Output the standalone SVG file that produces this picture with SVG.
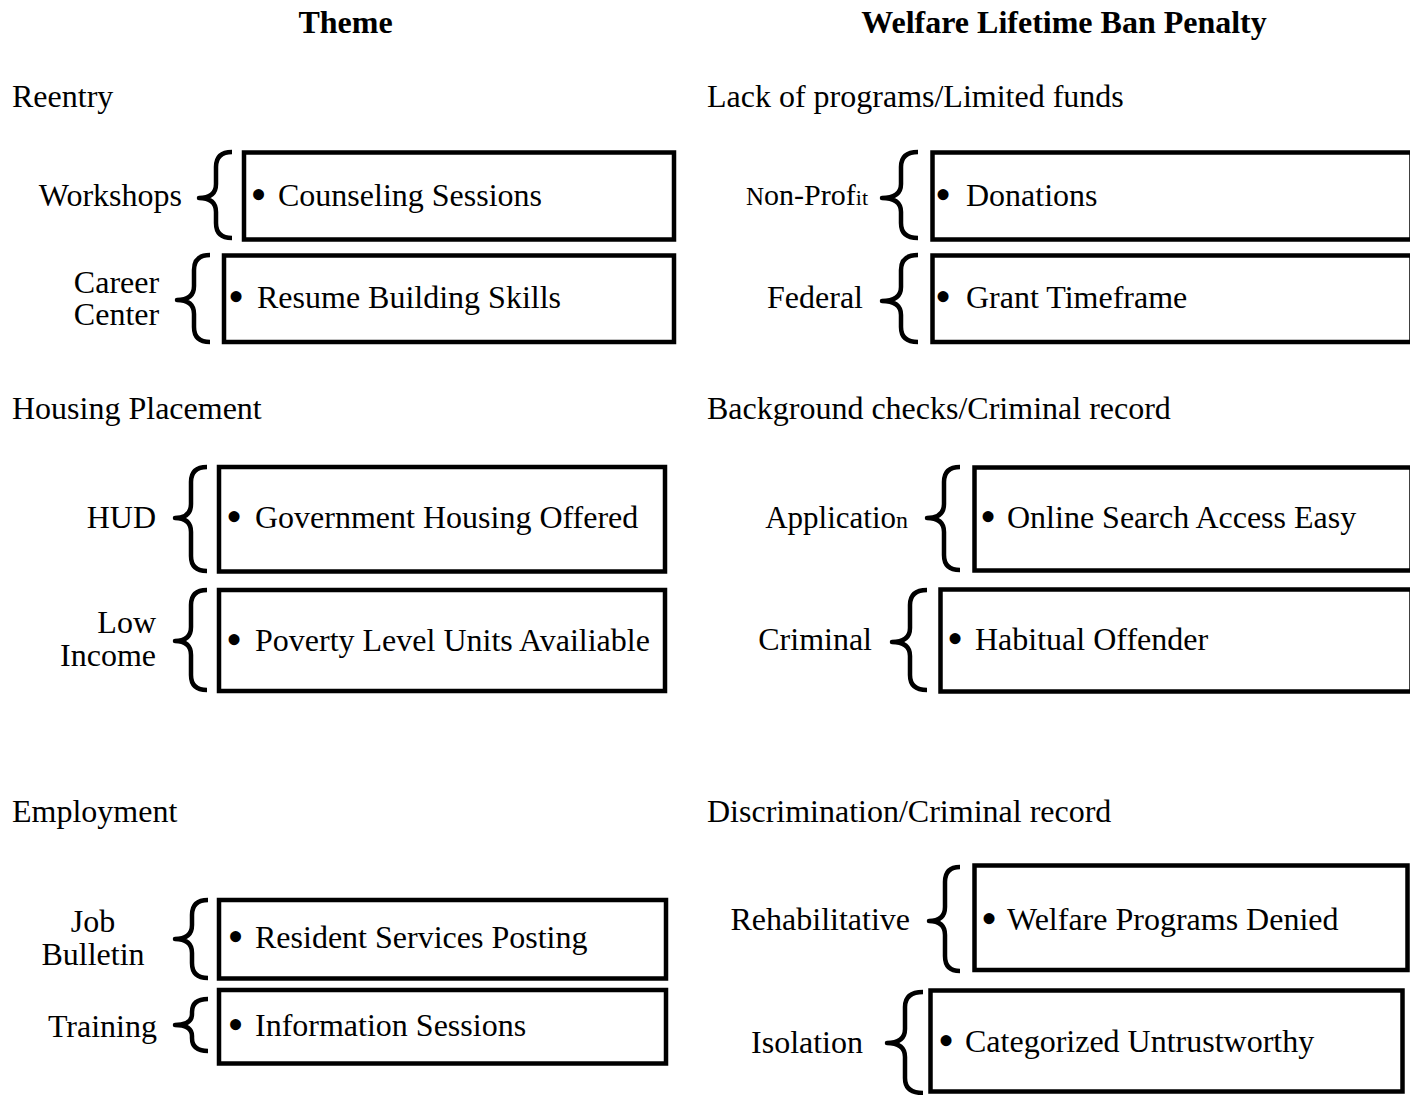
<svg xmlns="http://www.w3.org/2000/svg" width="1410" height="1095" viewBox="0 0 1410 1095">
<style>
text{font-family:"Liberation Serif","Times New Roman",serif;font-size:32px;fill:#000}
.title{font-weight:bold;text-anchor:middle}
.end{text-anchor:end}
.mid{text-anchor:middle}
.bul{font-size:46px}
.box{fill:#fff;stroke:#000;stroke-width:4.5}
.brace{fill:none;stroke:#000;stroke-width:4.5;stroke-linejoin:round}
</style>
<rect width="1410" height="1095" fill="#fff"/>
<text class="title" x="345.5" y="33">Theme</text>
<text class="title" x="1064" y="33">Welfare Lifetime Ban Penalty</text>
<text x="12" y="107">Reentry</text>
<text x="707" y="107">Lack of programs/Limited funds</text>
<text x="12" y="419">Housing Placement</text>
<text x="707" y="419">Background checks/Criminal record</text>
<text x="12" y="822">Employment</text>
<text x="707" y="822">Discrimination/Criminal record</text>

<g id="connectors">
<path class="brace" d="M232,152 Q216,152 216,167 V184 Q216,198 199,198 Q216,198 216,212 V223 Q216,238 232,238"/>
<path class="brace" d="M210,255 Q194,255 194,270 V286 Q194,300 177,300 Q194,300 194,314 V327 Q194,342 210,342"/>
<path class="brace" d="M207,467 Q191,467 191,482 V504 Q191,518 175,518 Q191,518 191,532 V556 Q191,571 207,571"/>
<path class="brace" d="M207,590 Q191,590 191,605 V627 Q191,641 175,641 Q191,641 191,655 V675 Q191,690 207,690"/>
<path class="brace" d="M208,900 Q192,900 192,915 V925 Q192,939 175,939 Q192,939 192,953 V963 Q192,978 208,978"/>
<path class="brace" d="M208,999 Q192,999 192,1012 V1014 Q192,1025 175,1025 Q192,1025 192,1036 V1038 Q192,1051 208,1051"/>
<path class="brace" d="M918,152 Q901,152 901,167 V184 Q901,198 882,198 Q901,198 901,212 V223 Q901,238 918,238"/>
<path class="brace" d="M918,255 Q901,255 901,270 V287 Q901,301 882,301 Q901,301 901,315 V327 Q901,342 918,342"/>
<path class="brace" d="M960,467 Q944,467 944,482 V504 Q944,518 927,518 Q944,518 944,532 V555 Q944,570 960,570"/>
<path class="brace" d="M927,590 Q910,590 910,605 V628 Q910,642 892,642 Q910,642 910,656 V675 Q910,690 927,690"/>
<path class="brace" d="M960,867 Q945,867 945,882 V907 Q945,921 929,921 Q945,921 945,935 V956 Q945,971 960,971"/>
<path class="brace" d="M923,992 Q905,992 905,1007 V1029 Q905,1043 887,1043 Q905,1043 905,1057 V1078 Q905,1093 923,1093"/>
</g>

<g id="workshops">
<text class="end" x="182" y="206">Workshops</text>
<rect class="box" x="244" y="152.5" width="430" height="87"/>
<text class="bul" x="250.5" y="210">•</text>
<text x="278" y="206">Counseling Sessions</text>
</g>
<g id="career-center">
<text class="mid" x="116.5" y="293">Career</text>
<text class="mid" x="116.5" y="325">Center</text>
<rect class="box" x="224" y="255.5" width="450" height="86.5"/>
<text class="bul" x="228" y="312">•</text>
<text x="257" y="308">Resume Building Skills</text>
</g>
<g id="hud">
<text class="end" x="156" y="528">HUD</text>
<rect class="box" x="219" y="467" width="446" height="104.5"/>
<text class="bul" x="226" y="532">•</text>
<text x="255" y="528">Government Housing Offered</text>
</g>
<g id="low-income">
<text class="end" x="156" y="633">Low</text>
<text class="end" x="156" y="666">Income</text>
<rect class="box" x="219" y="590" width="446" height="101"/>
<text class="bul" x="226" y="655">•</text>
<text x="255" y="651">Poverty Level Units Availiable</text>
</g>
<g id="job-bulletin">
<text class="mid" x="93" y="932">Job</text>
<text class="mid" x="93" y="965">Bulletin</text>
<rect class="box" x="219" y="900" width="447" height="78.5"/>
<text class="bul" x="227.5" y="952">•</text>
<text x="255" y="948">Resident Services Posting</text>
</g>
<g id="training">
<text class="end" x="157" y="1037">Training</text>
<rect class="box" x="219" y="990" width="447" height="73.5"/>
<text class="bul" x="227.5" y="1040">•</text>
<text x="255" y="1036">Information Sessions</text>
</g>

<g id="non-profit">
<text class="end" x="868" y="205"><tspan font-size="25">N</tspan><tspan font-size="30">on-Prof</tspan><tspan font-size="22">it</tspan></text>
<rect class="box" x="932.5" y="152.5" width="479" height="87"/>
<text class="bul" x="935" y="210">•</text>
<text x="966" y="206">Donations</text>
</g>
<g id="federal">
<text class="end" x="863" y="308">Federal</text>
<rect class="box" x="932.5" y="255.5" width="479" height="86.5"/>
<text class="bul" x="935" y="312">•</text>
<text x="966" y="308">Grant Timeframe</text>
</g>
<g id="application">
<text class="end" x="908" y="528"><tspan font-size="31">Applicatio</tspan><tspan font-size="24">n</tspan></text>
<rect class="box" x="974.5" y="467.5" width="437" height="103"/>
<text class="bul" x="980" y="532">•</text>
<text x="1007" y="528">Online Search Access Easy</text>
</g>
<g id="criminal">
<text class="end" x="872" y="650">Criminal</text>
<rect class="box" x="940.5" y="589.5" width="471" height="102"/>
<text class="bul" x="947" y="654">•</text>
<text x="975" y="650">Habitual Offender</text>
</g>
<g id="rehabilitative">
<text class="end" x="910" y="930">Rehabilitative</text>
<rect class="box" x="974.5" y="865.5" width="433" height="104.5"/>
<text class="bul" x="981" y="934">•</text>
<text x="1007" y="930">Welfare Programs Denied</text>
</g>
<g id="isolation">
<text class="end" x="863" y="1053">Isolation</text>
<rect class="box" x="930.5" y="990.5" width="472" height="101"/>
<text class="bul" x="938" y="1056">•</text>
<text x="965" y="1052">Categorized Untrustworthy</text>
</g>
</svg>
